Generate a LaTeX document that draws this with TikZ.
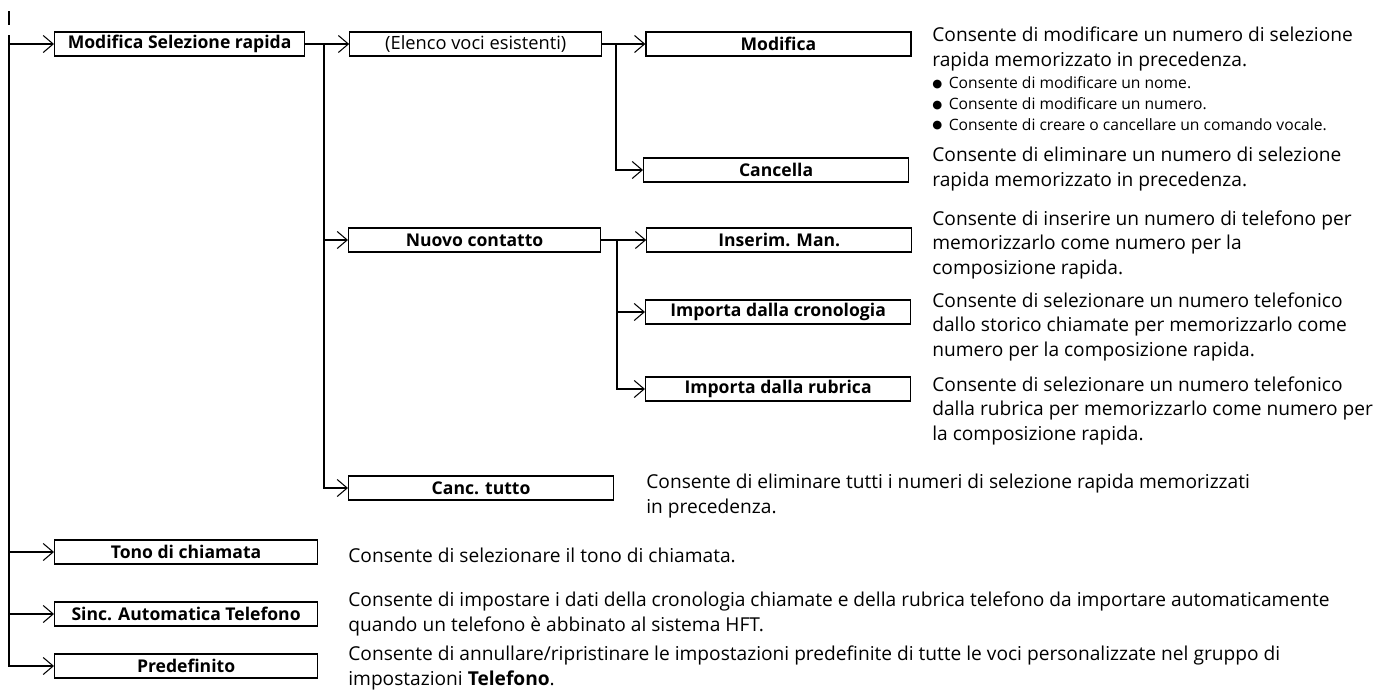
\documentclass[tikz,border=0pt]{standalone}
\usepackage{fontspec}
\setmainfont{Open Sans}
\newfontfamily\dotfont{DejaVu Sans}
\usetikzlibrary{arrows.meta,positioning}
\newcommand{\itemdot}{\makebox[0.33cm][l]{\raisebox{0.6pt}{\dotfont\fontsize{6.5}{6.5}\selectfont ●}}}

\begin{document}
\begin{tikzpicture}[
    x=0.02cm, y=-0.02cm,
    node distance=0.88cm,
    box/.style={draw, line width=0.7pt, minimum height=0.48cm, minimum width=5.3cm, inner sep=0pt, anchor=west, font=\fontsize{10}{12}\selectfont\bfseries},
    plainbox/.style={box, font=\fontsize{10.4}{12}\selectfont},
    desc/.style={anchor=base west, align=left, inner sep=0pt, font=\fontsize{10.9}{13.9}\selectfont},
    bullets/.style={desc, font=\fontsize{8.9}{11.9}\selectfont},
    line/.style={line width=1.2pt},
    arrow/.style={line width=1.2pt, -{Straight Barb[length=2mm, width=3.4mm, line width=0.6pt]}}
]
\useasboundingbox (0,0) rectangle (1374,693);

% boxes
\node[box, minimum width=5cm] (msr) at (54,44) {Modifica Selezione rapida};
\node[plainbox, minimum width=5.04cm, right=of msr] (elenco) {(Elenco voci esistenti)};
\node[box, right=0.86cm of elenco] (modifica) {Modifica};
\node[box] (cancella) at (643,170) {Cancella};
\node[box, minimum width=5.04cm] (nuovo) at (348,240) {Nuovo contatto};
\node[box, right=0.9cm of nuovo] (inserim) {Inserim. Man.};
\node[box] (cronologia) at (645,312) {Importa dalla cronologia};
\node[box] (rubrica) at (645,389) {Importa dalla rubrica};
\node[box] (canctutto) at (348,488) {Canc. tutto};
\node[box, minimum width=5.26cm] (tono) at (54,552) {Tono di chiamata};
\node[box, minimum width=5.26cm] (sinc) at (54,614) {Sinc. Automatica Telefono};
\node[box, minimum width=5.26cm] (predef) at (54,666) {Predefinito};

% descriptions (placed at the baseline of their last line)
\node[desc] (dmod) at (932,66) {Consente di modificare un numero di selezione\\rapida memorizzato in precedenza.};
\node[bullets] (dmodb) at (932,130) {\itemdot Consente di modificare un nome.\\\itemdot Consente di modificare un numero.\\\itemdot Consente di creare o cancellare un comando vocale.};
\node[desc] (dcanc) at (932,186) {Consente di eliminare un numero di selezione\\rapida memorizzato in precedenza.};
\node[desc] (dins) at (932,274) {Consente di inserire un numero di telefono per\\memorizzarlo come numero per la\\composizione rapida.};
\node[desc] (dcron) at (932,356) {Consente di selezionare un numero telefonico\\dallo storico chiamate per memorizzarlo come\\numero per la composizione rapida.};
\node[desc] (drub) at (932,440) {Consente di selezionare un numero telefonico\\dalla rubrica per memorizzarlo come numero per\\la composizione rapida.};
\node[desc] (dctutto) at (646,513) {Consente di eliminare tutti i numeri di selezione rapida memorizzati\\in precedenza.};
\node[desc] (dtono) at (348,562) {Consente di selezionare il tono di chiamata.};
\node[desc] (dsinc) at (348,631) {Consente di impostare i dati della cronologia chiamate e della rubrica telefono da importare automaticamente\\quando un telefono è abbinato al sistema HFT.};
\node[desc] (dpred) at (348,685) {Consente di annullare/ripristinare le impostazioni predefinite di tutte le voci personalizzate nel gruppo di\\impostazioni \textbf{Telefono}.};

% connectors
\coordinate (tick) at (9,11);
\coordinate (tickend) at (9,25);
\coordinate (trunk) at (9,35);
\coordinate (fork1) at (324,44);
\coordinate (fork2) at (616,44);
\coordinate (fork3) at (617,240);

\draw[line] (tick) -- (tickend);
\draw[arrow] (trunk) |- (predef.west);
\draw[arrow] (trunk |- msr.west) -- (msr.west);
\draw[arrow] (trunk |- tono.west) -- (tono.west);
\draw[arrow] (trunk |- sinc.west) -- (sinc.west);

\draw[arrow] (msr) -- (elenco);
\draw[arrow] (fork1) |- (canctutto.west);
\draw[arrow] (fork1 |- nuovo.west) -- (nuovo.west);

\draw[arrow] (elenco) -- (modifica);
\draw[arrow] (fork2) |- (cancella.west);

\draw[arrow] (nuovo) -- (inserim);
\draw[arrow] (fork3) |- (rubrica.west);
\draw[arrow] (fork3 |- cronologia.west) -- (cronologia.west);
\end{tikzpicture}
\end{document}
